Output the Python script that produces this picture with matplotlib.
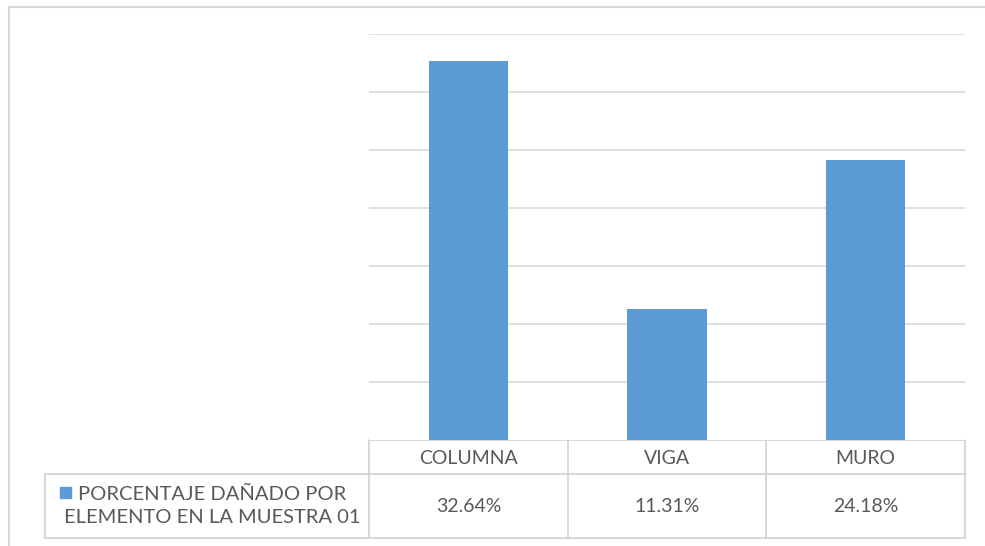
import matplotlib.pyplot as plt
import numpy as np

categories = ['COLUMNA', 'VIGA', 'MURO']
values = [32.64, 11.31, 24.18]
series_name = 'PORCENTAJE DAÑADO POR\nELEMENTO EN LA MUESTRA 01'
y_ticks = [5, 10, 15, 20, 25, 30, 35]

bar_color = '#5B9BD5'
grid_color = '#D9D9D9'
line_color = '#D4D4D4'
text_color = '#595959'

W, H = 985, 546
fig = plt.figure(figsize=(W / 100, H / 100), dpi=100)
plt.rcParams['font.family'] = ['Lato', 'DejaVu Sans']

# background layer in pixel coordinates: outer border + data table
bg = fig.add_axes([0, 0, 1, 1])
bg.set_xlim(0, W)
bg.set_ylim(H, 0)
bg.axis('off')

bg.plot([9, W], [7, 7], color=grid_color, lw=1.5)
bg.plot([9, 9], [7, H], color=grid_color, lw=1.5)

# plot area
x0, x1 = 369, 965
y_top, y_base = 34, 440
ax = fig.add_axes([x0 / W, 1 - y_base / H, (x1 - x0) / W, (y_base - y_top) / H])
ind = np.arange(len(categories))
ax.bar(ind, values, width=0.4, color=bar_color, zorder=3)
ax.set_xlim(-0.5, len(categories) - 0.5)
ax.set_ylim(0, 35)
ax.set_yticks(y_ticks)
ax.grid(axis='y', color=grid_color, lw=1.2, zorder=0)
ax.set_xticks([])
ax.tick_params(axis='y', length=0, labelleft=False)
for s in ax.spines.values():
    s.set_visible(False)

# data table
row1, row2, row3 = 440, 474, 538
col_w = (x1 - x0) / len(categories)
cols = [x0 + i * col_w for i in range(len(categories) + 1)]
leg_left = 45

bg.plot([x0, x1], [row1, row1], color=line_color, lw=1.3)
bg.plot([leg_left, x1], [row2, row2], color=line_color, lw=1.3)
bg.plot([leg_left, x1], [row3, row3], color=line_color, lw=1.3)
for c in cols:
    bg.plot([c, c], [row1, row3], color=line_color, lw=1.3)
bg.plot([leg_left, leg_left], [row2, row3], color=line_color, lw=1.3)

for i, (cat, v) in enumerate(zip(categories, values)):
    cx = cols[i] + col_w / 2
    bg.text(cx, (row1 + row2) / 2 + 1, cat, ha='center', va='center',
            fontsize=14, color=text_color)
    bg.text(cx, (row2 + row3) / 2, f'{v:.2f}%', ha='center', va='center',
            fontsize=14, color=text_color)

bg.add_patch(plt.Rectangle((60, 487), 11, 11, color=bar_color))
bg.text(212, (row2 + row3) / 2, series_name, ha='center', va='center',
        multialignment='center', fontsize=14.5, color=text_color, linespacing=1.45)

fig.savefig('out.png', dpi=100)
